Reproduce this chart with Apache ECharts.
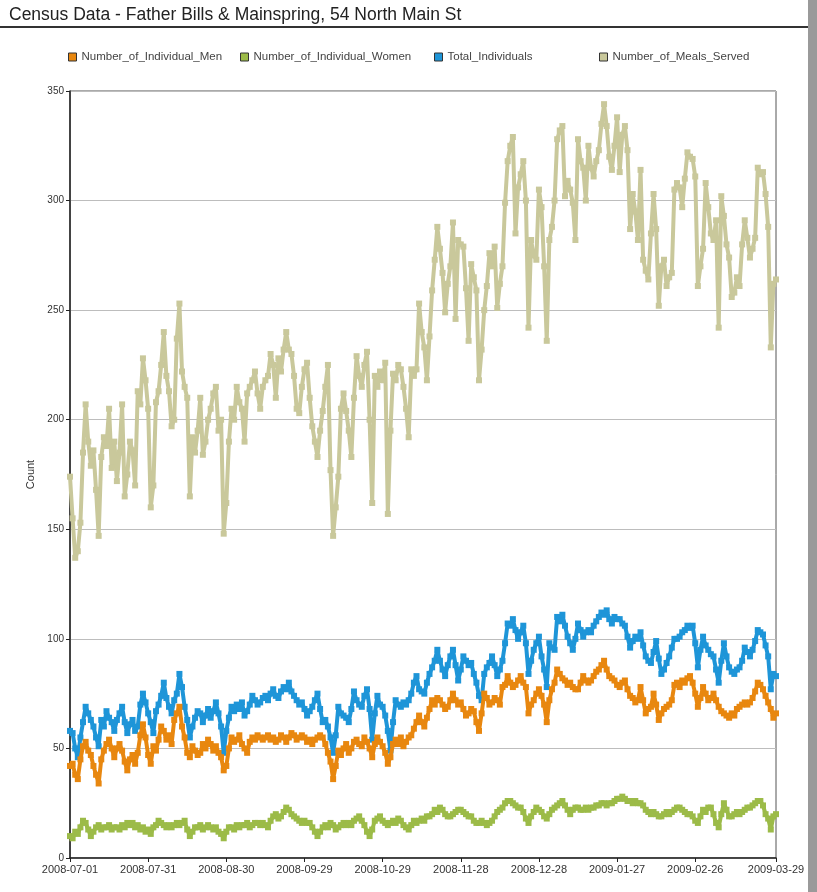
<!DOCTYPE html>
<html>
<head>
<meta charset="utf-8">
<script src="https://cdn.jsdelivr.net/npm/echarts@6/dist/echarts.min.js"></script>
<style>
html,body{margin:0;padding:0;background:#fff;}
#c{width:817px;height:892px;}
</style>
</head>
<body>
<div id="c"></div>
<script>
const titleText = 'Census Data - Father Bills & Mainspring, 54 North Main St';
const startDate = '2008-07-01';
const dayCount = 272;
const seriesNames = ['Number_of_Individual_Men','Number_of_Individual_Women','Total_Individuals','Number_of_Meals_Served'];
const yTicks = [0,50,100,150,200,250,300,350];

const men = [
42,43,38,36,45,51,53,49,47,42,
38,34,45,49,52,54,50,46,50,52,
49,44,40,45,47,43,48,56,61,55,
47,43,51,49,54,60,58,54,56,52,
63,66,69,60,55,48,46,51,49,47,
48,52,50,54,52,49,51,48,46,40,
42,50,55,53,54,56,52,50,48,53,
55,54,56,55,54,55,56,54,55,53,
54,56,55,53,55,57,56,54,55,56,
55,53,54,52,54,55,56,55,52,48,
44,36,42,49,47,50,52,48,50,53,
54,52,51,55,53,50,46,52,55,53,
51,48,43,46,52,54,52,55,51,53,
55,56,59,62,65,62,60,64,68,72,
70,73,72,70,68,69,72,75,72,70,
71,68,65,66,68,67,62,58,66,75,
73,70,71,73,72,70,78,79,83,80,
78,79,81,83,80,78,66,70,72,75,
77,74,70,62,72,77,80,86,84,82,
81,79,80,78,77,77,80,83,81,80,
81,83,85,86,88,90,86,83,82,81,
79,78,80,81,77,74,73,71,72,78,
72,66,68,69,75,70,63,66,68,69,
70,72,79,80,78,81,80,82,83,80,
75,69,73,78,75,72,73,75,72,69,
67,66,65,64,66,65,68,69,70,71,
70,71,73,76,80,79,77,74,71,68,
64,66];

const women = [
10,9,12,11,14,17,16,13,10,12,
14,15,13,14,14,15,13,14,14,13,
15,14,16,15,16,14,15,13,14,12,
13,11,14,15,17,16,15,14,15,14,
15,16,15,16,17,13,10,12,14,14,
15,13,14,15,14,13,14,12,11,9,
12,14,14,13,15,14,15,15,16,14,
15,16,16,15,16,15,14,17,19,20,
18,19,21,23,22,20,19,18,17,16,
17,16,16,14,12,10,12,14,15,14,
16,15,13,14,15,16,15,16,15,17,
18,19,17,15,12,10,13,17,18,19,
17,16,15,16,17,16,18,17,15,14,
13,15,17,16,17,18,17,19,19,20,
22,21,23,22,20,19,19,20,21,22,
22,21,20,19,19,17,16,16,17,16,
15,16,17,19,21,22,23,25,26,26,
25,24,23,23,21,18,16,19,21,23,
22,21,19,18,20,22,23,24,25,26,
24,22,20,22,23,23,22,22,23,22,
23,23,24,24,25,25,24,25,25,26,
27,27,28,27,26,26,25,26,25,25,
24,22,21,20,21,20,19,19,20,21,
20,21,22,23,23,22,21,20,20,19,
17,16,19,22,21,23,23,20,16,14,
20,25,22,19,19,20,21,20,21,22,
23,23,24,25,26,26,24,20,18,13,
19,20];

const total = [
58,57,50,46,55,62,69,66,63,60,
55,51,63,60,67,64,62,58,63,66,
69,62,57,61,63,58,60,70,75,71,
66,62,57,67,70,74,80,73,69,66,
72,75,84,78,69,63,55,60,64,67,
66,62,65,68,64,67,71,66,60,48,
58,64,69,67,70,68,71,65,67,70,
74,72,70,71,73,74,72,75,77,74,
73,76,78,77,80,76,74,72,70,71,
68,65,67,69,72,75,68,62,63,60,
55,48,56,69,66,65,64,62,68,76,
72,70,69,74,77,68,54,66,74,70,
69,65,58,49,62,72,70,69,71,70,
72,75,80,83,77,76,75,80,84,87,
90,95,90,86,83,88,92,95,88,81,
86,92,90,88,89,84,80,74,72,84,
87,89,92,88,83,86,90,98,107,106,
109,104,100,103,106,98,84,90,95,98,
101,92,86,78,98,96,95,110,108,111,
106,101,98,95,100,107,104,101,103,104,
103,106,108,110,112,111,113,109,107,110,
109,109,107,106,101,96,99,101,100,103,
97,92,90,89,94,99,91,84,86,89,
92,96,100,100,101,103,104,106,105,106,
98,87,95,101,97,95,93,92,86,80,
90,98,92,87,85,84,86,87,90,96,
94,92,95,99,104,103,102,97,92,77,
84,83];

const meals = [
174,155,137,140,153,185,207,190,179,186,
168,147,183,192,188,205,178,190,172,185,
207,165,175,190,186,170,213,207,228,218,
205,160,170,208,213,225,240,220,213,197,
200,237,253,222,215,210,165,192,185,195,
210,184,190,200,205,212,215,195,200,148,
162,190,205,200,215,208,205,190,212,215,
218,222,212,205,215,218,220,230,225,210,
228,222,232,240,232,230,220,205,203,215,
223,226,210,197,190,183,195,204,215,225,
177,147,160,174,205,212,204,195,183,210,
229,220,215,225,231,200,162,220,215,222,
218,226,157,195,221,218,225,223,215,205,
192,223,220,223,253,240,233,218,238,259,
273,288,278,267,249,262,270,290,246,282,
280,279,260,236,271,265,259,218,232,250,
261,276,270,279,251,262,270,299,318,325,
329,285,306,312,318,300,242,282,275,273,
305,297,270,236,282,288,300,328,332,334,
302,309,305,299,282,328,318,315,300,325,
315,311,318,323,335,344,334,320,314,325,
338,313,330,334,323,287,303,295,282,314,
273,268,264,285,303,287,252,270,273,261,
265,267,305,308,306,297,310,322,320,319,
311,261,270,278,308,297,285,282,291,242,
302,293,280,274,256,258,265,261,280,291,
283,274,278,283,315,312,313,303,288,233,
262,264];

// date categories
const dates = [];
{
  const p = startDate.split('-').map(Number);
  const t0 = Date.UTC(p[0], p[1] - 1, p[2]);
  for (let i = 0; i < dayCount; i++) {
    const d = new Date(t0 + i * 86400000);
    dates.push(d.getUTCFullYear() + '-' + String(d.getUTCMonth() + 1).padStart(2, '0') + '-' + String(d.getUTCDate()).padStart(2, '0'));
  }
}
const lastIdx = dayCount - 1;
function showTick(i) { return (i % 30 === 0 && i <= lastIdx - 20) || i === lastIdx; }

const colors = ['#e8870f', '#9cbb48', '#1e95d8', '#c9c89b'];
const FONT = '"Liberation Sans", Arial, sans-serif';

function mkSeries(name, data, color, z) {
  return {
    name: name, type: 'line', data: data, z: z,
    symbol: 'rect', symbolSize: 6, showAllSymbol: true,
    lineStyle: { color: color, width: 4 },
    itemStyle: { color: color },
    emphasis: { disabled: true },
    animation: false
  };
}

function mkLegend(name, left) {
  return {
    data: [name], left: left, top: 51, icon: 'rect', itemWidth: 8, itemHeight: 8, padding: 0,
    itemStyle: { borderColor: '#333', borderWidth: 1 },
    textStyle: { fontSize: 11.5, color: '#444', fontFamily: FONT },
    selectedMode: false
  };
}

const chart = echarts.init(document.getElementById('c'), null, { renderer: 'canvas' });
chart.setOption({
  animation: false,
  backgroundColor: '#fff',
  title: {
    text: titleText, left: 4, top: 1,
    textStyle: { fontSize: 17.5, fontWeight: 'normal', color: '#222', fontFamily: FONT }
  },
  legend: [
    mkLegend(seriesNames[0], 68),
    mkLegend(seriesNames[1], 240),
    mkLegend(seriesNames[2], 434),
    mkLegend(seriesNames[3], 599)
  ],
  graphic: [
    { type: 'line', shape: { x1: 0, y1: 27, x2: 808, y2: 27 }, style: { stroke: '#333', lineWidth: 2 } },
    { type: 'rect', shape: { x: 808, y: 0, width: 9, height: 892 }, style: { fill: '#9a9a9a' } }
  ],
  grid: { left: 70, right: 41, top: 91, bottom: 34, show: true, borderColor: '#555', borderWidth: 1 },
  xAxis: {
    type: 'category', data: dates, boundaryGap: false,
    axisLine: { lineStyle: { color: '#222', width: 1.5 } },
    axisTick: { interval: function (i) { return showTick(i); }, length: 4, lineStyle: { color: '#222' } },
    axisLabel: { interval: function (i) { return showTick(i); }, fontSize: 11, color: '#333', fontFamily: FONT, margin: 6 },
    splitLine: { show: false }
  },
  yAxis: {
    type: 'value', min: 0, max: 350, interval: 50,
    name: 'Count', nameLocation: 'middle', nameGap: 30, nameRotate: 90,
    nameTextStyle: { fontSize: 11, color: '#333', fontFamily: FONT },
    axisLine: { show: true, lineStyle: { color: '#222', width: 1.5 } },
    axisTick: { show: true, length: 4, lineStyle: { color: '#222' } },
    axisLabel: { fontSize: 10, color: '#333', fontFamily: FONT, margin: 6,
      formatter: function (v) { return yTicks.indexOf(v) >= 0 ? String(v) : ''; } },
    splitLine: { lineStyle: { color: '#bdbdbd', width: 1 } }
  },
  series: [
    mkSeries(seriesNames[0], men, colors[0], 3),
    mkSeries(seriesNames[1], women, colors[1], 2),
    mkSeries(seriesNames[2], total, colors[2], 2),
    mkSeries(seriesNames[3], meals, colors[3], 2)
  ]
});
</script>
</body>
</html>
